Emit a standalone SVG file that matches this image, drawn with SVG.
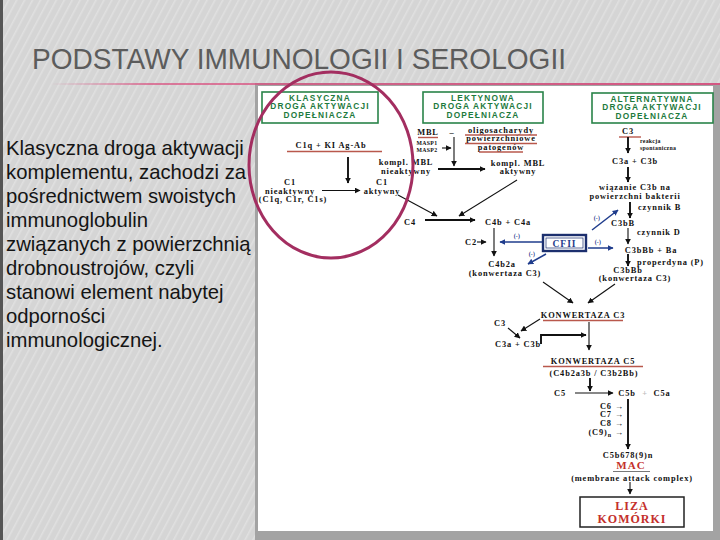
<svg xmlns="http://www.w3.org/2000/svg" width="720" height="540" viewBox="0 0 720 540">
<defs>
<pattern id="stripes" width="7" height="7" patternUnits="userSpaceOnUse" patternTransform="rotate(28)">
<rect width="7" height="7" fill="#d5d5d5"/>
<rect x="0" y="0" width="1.6" height="7" fill="#e0e0e0"/>
</pattern>
<linearGradient id="pinkline" x1="0" x2="1" y1="0" y2="0">
<stop offset="0" stop-color="#d94f7f" stop-opacity="0"/>
<stop offset="0.15" stop-color="#d94f7f" stop-opacity="0.7"/>
<stop offset="1" stop-color="#d94f7f" stop-opacity="0.9"/>
</linearGradient>
<marker id="ah" viewBox="0 0 10 10" refX="9" refY="5" markerWidth="6" markerHeight="6" markerUnits="userSpaceOnUse" orient="auto"><path d="M0,0 L10,5 L0,10 z" fill="#111"/></marker>
<marker id="ahb" viewBox="0 0 10 10" refX="9" refY="5" markerWidth="6" markerHeight="6" markerUnits="userSpaceOnUse" orient="auto"><path d="M0,0 L10,5 L0,10 z" fill="#1f3c8c"/></marker>
<style>
.title{font-family:"Liberation Sans",Arial,sans-serif;font-size:30px;fill:#5c5c5c}
.body{font-family:"Liberation Sans",Arial,sans-serif;font-size:20.3px;fill:#141414}
.hd{font-family:"Liberation Sans",Arial,sans-serif;font-weight:bold;font-size:8.3px;letter-spacing:1.2px;fill:#1d7a3d;text-anchor:middle}
.hbox{fill:#fff;stroke:#2a8449;stroke-width:1.6}
.t{font-family:"Liberation Serif","Times New Roman",serif;font-weight:bold;font-size:8.4px;letter-spacing:0.85px;fill:#111;text-anchor:middle}
.tl{text-anchor:start}
.te{text-anchor:end}
.sm{font-size:5.8px;letter-spacing:0.3px}
.blue{fill:#1f3c8c}
.red{fill:#c4302b}
.ul{stroke:#b9584c;stroke-width:1.4;fill:none}
.a{stroke:#111;stroke-width:1.1;fill:none;marker-end:url(#ah)}
.ak{stroke:#111;stroke-width:1.9;fill:none;marker-end:url(#ah)}
.ab{stroke:#1f3c8c;stroke-width:1.5;fill:none;marker-end:url(#ahb)}
</style>
</defs>
<rect width="720" height="540" fill="url(#stripes)"/>
<rect x="0" y="0" width="3" height="540" fill="#555"/>
<text class="title" x="32" y="69" textLength="534" lengthAdjust="spacingAndGlyphs">PODSTAWY IMMUNOLOGII I SEROLOGII</text>
<g id="body-text">
<text class="body" x="6" y="155">Klasyczna droga aktywacji</text>
<text class="body" x="6" y="179">komplementu, zachodzi za</text>
<text class="body" x="6" y="203">pośrednictwem swoistych</text>
<text class="body" x="6" y="227">immunoglobulin</text>
<text class="body" x="6" y="251">związanych z powierzchnią</text>
<text class="body" x="6" y="275">drobnoustrojów, czyli</text>
<text class="body" x="6" y="299">stanowi element nabytej</text>
<text class="body" x="6" y="323">odporności</text>
<text class="body" x="6" y="347">immunologicznej.</text>
</g>
<rect x="255" y="83" width="465" height="457" fill="#a3a3a3"/>
<rect x="258" y="86" width="455" height="445" fill="#fff"/>
<rect x="50" y="83" width="670" height="2" fill="url(#pinkline)"/>

<g id="header-klasyczna">
<rect class="hbox" x="262" y="92" width="116" height="31"/>
<text class="hd" x="320" y="100.5">KLASYCZNA</text>
<text class="hd" x="320" y="109">DROGA AKTYWACJI</text>
<text class="hd" x="320" y="117.5">DOPEŁNIACZA</text>
</g>
<g id="header-lektynowa">
<rect class="hbox" x="423" y="92" width="120" height="31"/>
<text class="hd" x="483" y="100.5">LEKTYNOWA</text>
<text class="hd" x="483" y="109">DROGA AKTYWACJI</text>
<text class="hd" x="483" y="117.5">DOPEŁNIACZA</text>
</g>
<g id="header-alternatywna">
<rect class="hbox" x="592" y="93" width="121" height="30"/>
<text class="hd" x="652" y="101.5">ALTERNATYWNA</text>
<text class="hd" x="652" y="110">DROGA AKTYWACJI</text>
<text class="hd" x="652" y="118.5">DOPEŁNIACZA</text>
</g>

<g id="klasyczna">
<text class="t" x="331" y="148">C1q  +  KI Ag-Ab</text>
<line class="ul" x1="287" y1="151.5" x2="382" y2="151.5"/>
<text class="t" x="290" y="185">C1</text>
<text class="t" x="290" y="193.5">nieaktywny</text>
<text class="t" x="293" y="202">(C1q, C1r, C1s)</text>
<text class="t" x="382" y="185">C1</text>
<text class="t" x="382" y="193.5">aktywny</text>
</g>

<g id="lektynowa">
<text class="t" x="428" y="135">MBL</text>
<line class="ul" x1="418" y1="137.5" x2="438" y2="137.5"/>
<text class="t" x="452" y="135">–</text>
<text class="t" x="501" y="132.5">oligosacharydy</text>
<text class="t" x="501" y="141">powierzchniowe</text>
<text class="t" x="501" y="149.5">patogenów</text>
<line class="ul" x1="465" y1="135" x2="537" y2="135"/>
<line class="ul" x1="465" y1="143.5" x2="537" y2="143.5"/>
<line class="ul" x1="479" y1="152" x2="523" y2="152"/>
<text class="t sm" x="427" y="145">MASP1</text>
<text class="t sm" x="427" y="152">MASP2</text>
<text class="t" x="406" y="165">kompl. MBL</text>
<text class="t" x="406" y="173.5">nieaktywny</text>
<text class="t" x="518" y="165.5">kompl. MBL</text>
<text class="t" x="518" y="174">aktywny</text>
</g>

<g id="c4">
<text class="t" x="410" y="225">C4</text>
<text class="t" x="508" y="225">C4b + C4a</text>
<text class="t" x="471" y="245">C2</text>
<text class="t" x="502" y="267">C4b2a</text>
<text class="t" x="505" y="275.5">(konwertaza C3)</text>
</g>

<g id="cfii">
<rect x="543" y="235" width="43" height="16" fill="#fff" stroke="#1c2f6e" stroke-width="2.4"/>
<rect x="546" y="238" width="37" height="10" fill="none" stroke="#1c2f6e" stroke-width="0.7"/>
<text class="t blue" x="564.5" y="246.5" style="font-size:9.5px;letter-spacing:1px">CFII</text>
<text class="t blue sm" x="517" y="238">(-)</text>
<text class="t blue sm" x="532" y="256">(-)</text>
<text class="t blue sm" x="598" y="244">(-)</text>
<text class="t blue sm" x="597" y="220">(-)</text>
</g>

<g id="alternatywna">
<text class="t" x="628" y="134">C3</text>
<line class="ul" x1="619" y1="137" x2="641" y2="137"/>
<text class="t sm tl" x="640" y="143">reakcja</text>
<text class="t sm tl" x="640" y="149.5">spontaniczna</text>
<text class="t" x="635" y="164">C3a  +  C3b</text>
<text class="t" x="635" y="190">wiązanie C3b na</text>
<text class="t" x="635" y="198.5">powierzchni bakterii</text>
<text class="t tl" x="638" y="210">czynnik B</text>
<text class="t" x="623" y="226">C3bB</text>
<text class="t tl" x="637" y="235">czynnik D</text>
<text class="t" x="651" y="253">C3bBb  +  Ba</text>
<text class="t tl" x="637" y="264.5">properdyna (P)</text>
<text class="t" x="628" y="272.5">C3bBb</text>
<text class="t" x="635" y="281">(konwertaza C3)</text>
</g>

<g id="konwertaza-c3">
<text class="t" x="583" y="318">KONWERTAZA C3</text>
<line class="ul" x1="543" y1="320.5" x2="623" y2="320.5"/>
<text class="t" x="500" y="326">C3</text>
<text class="t" x="518" y="347">C3a + C3b</text>
</g>

<g id="konwertaza-c5">
<text class="t" x="593" y="364">KONWERTAZA C5</text>
<line class="ul" x1="543" y1="366.5" x2="643" y2="366.5"/>
<text class="t" x="594" y="375.5">(C4b2a3b / C3b2Bb)</text>
<text class="t" x="560" y="396">C5</text>
<text class="t" x="627" y="396">C5b</text>
<text class="t" x="645" y="396" style="fill:#bbb">+</text>
<text class="t" x="662" y="396">C5a</text>
<text class="t te" x="624" y="408.5">C6 →</text>
<text class="t te" x="624" y="417">C7 →</text>
<text class="t te" x="624" y="425.5">C8 →</text>
<text class="t te" x="624" y="434.5">(C9)<tspan dy="2" style="font-size:6px">n</tspan><tspan dy="-2"> →</tspan></text>
</g>

<g id="mac">
<text class="t" x="628" y="458">C5b678(9)n</text>
<text class="t red" x="631" y="469" style="font-size:11px;letter-spacing:1px">MAC</text>
<line x1="613" y1="471.5" x2="650" y2="471.5" stroke="#555" stroke-width="0.8"/>
<text class="t" x="632" y="480.5">(membrane attack complex)</text>
</g>

<g id="liza">
<rect x="580" y="497" width="104" height="30" fill="#fff" stroke="#222" stroke-width="1.5"/>
<text class="t red" x="632" y="510" style="font-size:12px;letter-spacing:1px">LIZA</text>
<text class="t red" x="632" y="523" style="font-size:12px;letter-spacing:1px">KOMÓRKI</text>
</g>

<g id="connectors">
<line class="ak" x1="348" y1="157" x2="348" y2="183"/>
<line class="a" x1="322" y1="190.5" x2="360" y2="190.5"/>
<line class="a" x1="442" y1="148" x2="451" y2="148"/>
<line class="a" x1="454" y1="137" x2="454" y2="166"/>
<line class="ak" x1="438" y1="169" x2="485" y2="169"/>
<line class="a" x1="517" y1="180" x2="459" y2="216"/>
<line class="a" x1="398" y1="195" x2="437" y2="216"/>
<line class="ak" x1="425" y1="220" x2="475" y2="220"/>
<line class="a" x1="494" y1="228" x2="494" y2="256"/>
<line class="a" x1="477" y1="242" x2="486" y2="242"/>
<line class="ab" x1="542" y1="242" x2="500" y2="242"/>
<line class="ab" x1="546" y1="254" x2="528" y2="264"/>
<line class="a" x1="543" y1="282" x2="573" y2="303"/>
<line class="ak" x1="628" y1="137" x2="628" y2="153"/>
<line class="ak" x1="628" y1="167" x2="628" y2="182"/>
<line class="ak" x1="630" y1="202" x2="630" y2="218"/>
<line class="ab" x1="592" y1="230" x2="618" y2="210"/>
<line class="a" x1="628" y1="228" x2="628" y2="244"/>
<line class="ab" x1="588" y1="248" x2="613" y2="248"/>
<line class="ak" x1="628" y1="254" x2="628" y2="266"/>
<line class="a" x1="615" y1="284" x2="588" y2="303"/>
<line class="a" x1="540" y1="319" x2="521" y2="331"/>
<line class="a" x1="508" y1="328" x2="520" y2="338"/>
<polyline class="ak" points="541,344 541,335 586,335"/>
<line class="a" x1="589" y1="322" x2="589" y2="350"/>
<line class="ak" x1="590" y1="378" x2="590" y2="391"/>
<line class="a" x1="575" y1="393" x2="613" y2="393"/>
<line class="ak" x1="628" y1="399" x2="628" y2="449"/>
<line class="a" x1="630" y1="482" x2="630" y2="494"/>
</g>

<ellipse id="highlight" cx="331" cy="165" rx="82" ry="93" fill="none" stroke="#a32e60" stroke-width="3"/>
</svg>
